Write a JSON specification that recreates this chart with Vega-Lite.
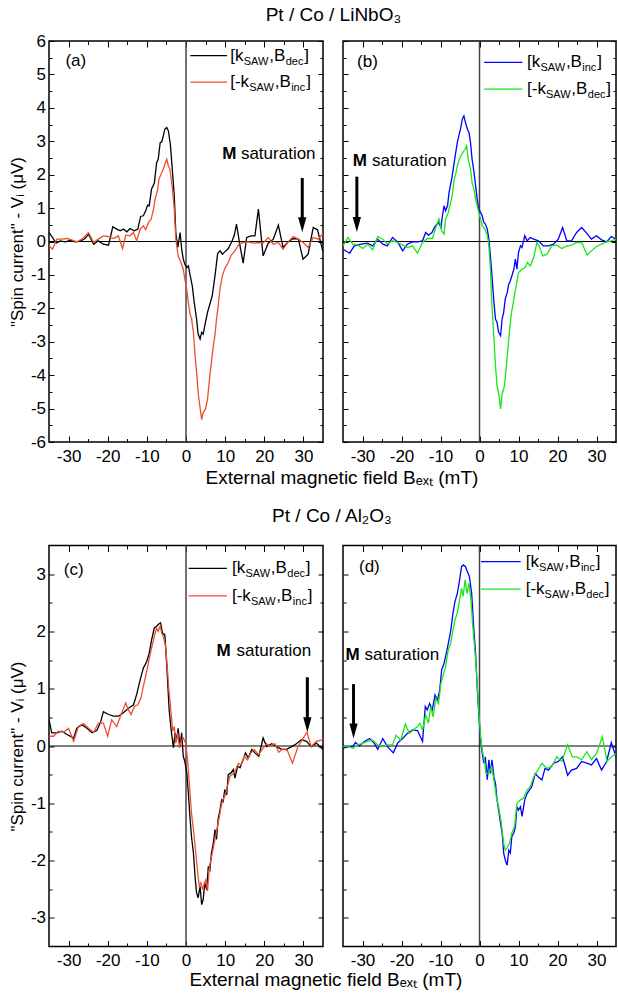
{
"$schema": "https://vega.github.io/schema/vega-lite/v6.json",
"padding": {"left": 7, "top": 6, "right": 0, "bottom": 0},
"datasets": {
"aL": [
{"s":"k_dec","B":-35,"V":0.27},{"s":"k_dec","B":-34.1,"V":0.12},{"s":"k_dec","B":-33.2,"V":-0.05},{"s":"k_dec","B":-32.1,"V":0.02},{"s":"k_dec","B":-30.9,"V":-0.01},{"s":"k_dec","B":-29.6,"V":0.03},{"s":"k_dec","B":-28.3,"V":-0.01},{"s":"k_dec","B":-27.0,"V":0.01},{"s":"k_dec","B":-25.8,"V":0.09},{"s":"k_dec","B":-24.9,"V":0.22},{"s":"k_dec","B":-23.6,"V":-0.08},{"s":"k_dec","B":-22.4,"V":0.02},{"s":"k_dec","B":-21.1,"V":-0.08},{"s":"k_dec","B":-19.8,"V":-0.11},{"s":"k_dec","B":-18.7,"V":0.44},{"s":"k_dec","B":-17.7,"V":0.37},{"s":"k_dec","B":-16.8,"V":0.32},{"s":"k_dec","B":-16.0,"V":0.37},{"s":"k_dec","B":-15.1,"V":0.29},{"s":"k_dec","B":-14.3,"V":0.39},{"s":"k_dec","B":-13.2,"V":0.32},{"s":"k_dec","B":-12.3,"V":0.37},{"s":"k_dec","B":-11.6,"V":0.75},{"s":"k_dec","B":-10.9,"V":0.77},{"s":"k_dec","B":-10.3,"V":0.92},{"s":"k_dec","B":-9.8,"V":1.09},{"s":"k_dec","B":-9.4,"V":1.07},{"s":"k_dec","B":-8.8,"V":1.57},{"s":"k_dec","B":-8.1,"V":1.74},{"s":"k_dec","B":-7.5,"V":2.36},{"s":"k_dec","B":-7.1,"V":2.46},{"s":"k_dec","B":-6.6,"V":2.96},{"s":"k_dec","B":-6.2,"V":2.98},{"s":"k_dec","B":-5.8,"V":3.16},{"s":"k_dec","B":-5.4,"V":3.36},{"s":"k_dec","B":-4.9,"V":3.41},{"s":"k_dec","B":-4.5,"V":3.31},{"s":"k_dec","B":-4.0,"V":2.91},{"s":"k_dec","B":-3.5,"V":2.16},{"s":"k_dec","B":-3.0,"V":1.37},{"s":"k_dec","B":-2.6,"V":0.27},{"s":"k_dec","B":-2.1,"V":-0.18},{"s":"k_dec","B":-1.5,"V":0.27},{"s":"k_dec","B":-1.1,"V":-0.23},{"s":"k_dec","B":-0.7,"V":-0.53},{"s":"k_dec","B":-0.3,"V":-0.68},{"s":"k_dec","B":0.2,"V":-0.78},{"s":"k_dec","B":0.6,"V":-0.73},{"s":"k_dec","B":1.0,"V":-0.98},{"s":"k_dec","B":1.6,"V":-1.33},{"s":"k_dec","B":2.1,"V":-1.82},{"s":"k_dec","B":2.7,"V":-2.32},{"s":"k_dec","B":3.1,"V":-2.77},{"s":"k_dec","B":3.6,"V":-2.92},{"s":"k_dec","B":4.0,"V":-2.72},{"s":"k_dec","B":4.4,"V":-2.77},{"s":"k_dec","B":4.8,"V":-2.52},{"s":"k_dec","B":5.5,"V":-2.12},{"s":"k_dec","B":6.1,"V":-1.87},{"s":"k_dec","B":6.7,"V":-1.63},{"s":"k_dec","B":7.4,"V":-1.03},{"s":"k_dec","B":8.1,"V":-0.35},{"s":"k_dec","B":8.7,"V":-0.28},{"s":"k_dec","B":9.3,"V":-0.38},{"s":"k_dec","B":9.9,"V":-0.31},{"s":"k_dec","B":10.8,"V":-0.21},{"s":"k_dec","B":11.6,"V":-0.03},{"s":"k_dec","B":12.3,"V":0.17},{"s":"k_dec","B":12.9,"V":0.52},{"s":"k_dec","B":13.8,"V":-0.13},{"s":"k_dec","B":14.6,"V":-0.65},{"s":"k_dec","B":15.5,"V":0.12},{"s":"k_dec","B":16.6,"V":0.17},{"s":"k_dec","B":17.6,"V":0.17},{"s":"k_dec","B":18.5,"V":0.97},{"s":"k_dec","B":19.7,"V":-0.43},{"s":"k_dec","B":21.0,"V":-0.05},{"s":"k_dec","B":22.3,"V":0.07},{"s":"k_dec","B":23.6,"V":0.49},{"s":"k_dec","B":24.8,"V":-0.18},{"s":"k_dec","B":26.1,"V":-0.01},{"s":"k_dec","B":27.4,"V":0.09},{"s":"k_dec","B":28.7,"V":0.07},{"s":"k_dec","B":29.9,"V":-0.53},{"s":"k_dec","B":31.2,"V":-0.38},{"s":"k_dec","B":32.5,"V":0.42},{"s":"k_dec","B":33.6,"V":0.35},{"s":"k_dec","B":35.0,"V":-0.31},
{"s":"mk_inc","B":-35,"V":-0.13},{"s":"mk_inc","B":-34.1,"V":-0.23},{"s":"mk_inc","B":-33,"V":0.07},{"s":"mk_inc","B":-31.7,"V":0.07},{"s":"mk_inc","B":-30.4,"V":0.09},{"s":"mk_inc","B":-29.2,"V":0.05},{"s":"mk_inc","B":-27.9,"V":-0.01},{"s":"mk_inc","B":-26.6,"V":0.07},{"s":"mk_inc","B":-24.9,"V":0.27},{"s":"mk_inc","B":-23.6,"V":-0.03},{"s":"mk_inc","B":-22.4,"V":0.07},{"s":"mk_inc","B":-21.1,"V":0.17},{"s":"mk_inc","B":-19.8,"V":0.15},{"s":"mk_inc","B":-18.5,"V":0.09},{"s":"mk_inc","B":-17.3,"V":0.17},{"s":"mk_inc","B":-16.2,"V":-0.21},{"s":"mk_inc","B":-15.4,"V":0.19},{"s":"mk_inc","B":-14.3,"V":0.17},{"s":"mk_inc","B":-13.4,"V":0.27},{"s":"mk_inc","B":-12.6,"V":0.02},{"s":"mk_inc","B":-11.7,"V":0.37},{"s":"mk_inc","B":-10.9,"V":0.47},{"s":"mk_inc","B":-10.3,"V":0.35},{"s":"mk_inc","B":-9.6,"V":0.57},{"s":"mk_inc","B":-8.9,"V":0.67},{"s":"mk_inc","B":-8.3,"V":0.97},{"s":"mk_inc","B":-7.9,"V":1.27},{"s":"mk_inc","B":-7.3,"V":1.52},{"s":"mk_inc","B":-6.9,"V":1.86},{"s":"mk_inc","B":-6.4,"V":2.01},{"s":"mk_inc","B":-5.8,"V":2.16},{"s":"mk_inc","B":-5.4,"V":2.31},{"s":"mk_inc","B":-4.9,"V":2.46},{"s":"mk_inc","B":-4.5,"V":2.26},{"s":"mk_inc","B":-4.1,"V":2.16},{"s":"mk_inc","B":-3.5,"V":1.62},{"s":"mk_inc","B":-3.0,"V":0.97},{"s":"mk_inc","B":-2.6,"V":0.07},{"s":"mk_inc","B":-2.0,"V":-0.43},{"s":"mk_inc","B":-1.3,"V":-0.63},{"s":"mk_inc","B":-0.7,"V":-0.83},{"s":"mk_inc","B":-0.3,"V":-1.13},{"s":"mk_inc","B":0.2,"V":-1.45},{"s":"mk_inc","B":0.6,"V":-1.82},{"s":"mk_inc","B":1.0,"V":-2.15},{"s":"mk_inc","B":1.4,"V":-2.3},{"s":"mk_inc","B":1.9,"V":-2.72},{"s":"mk_inc","B":2.3,"V":-3.4},{"s":"mk_inc","B":2.7,"V":-3.9},{"s":"mk_inc","B":3.1,"V":-4.52},{"s":"mk_inc","B":3.6,"V":-4.98},{"s":"mk_inc","B":4.0,"V":-5.33},{"s":"mk_inc","B":4.4,"V":-5.11},{"s":"mk_inc","B":5.0,"V":-5.01},{"s":"mk_inc","B":5.5,"V":-4.72},{"s":"mk_inc","B":6.1,"V":-4.0},{"s":"mk_inc","B":6.5,"V":-3.6},{"s":"mk_inc","B":7.0,"V":-3.1},{"s":"mk_inc","B":7.4,"V":-2.8},{"s":"mk_inc","B":7.8,"V":-2.32},{"s":"mk_inc","B":8.2,"V":-1.95},{"s":"mk_inc","B":8.7,"V":-1.4},{"s":"mk_inc","B":9.3,"V":-1.03},{"s":"mk_inc","B":9.9,"V":-0.81},{"s":"mk_inc","B":10.8,"V":-0.63},{"s":"mk_inc","B":11.6,"V":-0.4},{"s":"mk_inc","B":12.5,"V":-0.28},{"s":"mk_inc","B":13.5,"V":-0.08},{"s":"mk_inc","B":14.6,"V":-0.03},{"s":"mk_inc","B":15.9,"V":-0.01},{"s":"mk_inc","B":17.2,"V":-0.05},{"s":"mk_inc","B":18.5,"V":-0.03},{"s":"mk_inc","B":19.7,"V":-0.05},{"s":"mk_inc","B":21.0,"V":0.12},{"s":"mk_inc","B":22.3,"V":-0.08},{"s":"mk_inc","B":23.6,"V":-0.03},{"s":"mk_inc","B":24.8,"V":-0.23},{"s":"mk_inc","B":26.1,"V":-0.01},{"s":"mk_inc","B":27.4,"V":0.15},{"s":"mk_inc","B":28.7,"V":0.07},{"s":"mk_inc","B":29.9,"V":-0.03},{"s":"mk_inc","B":31.2,"V":-0.18},{"s":"mk_inc","B":32.5,"V":0.12},{"s":"mk_inc","B":33.8,"V":0.07},{"s":"mk_inc","B":35,"V":0.25}
],
"bL": [
{"s":"k_inc","B":-35,"V":-0.23},{"s":"k_inc","B":-33.3,"V":-0.35},{"s":"k_inc","B":-32.1,"V":-0.13},{"s":"k_inc","B":-30.4,"V":-0.08},{"s":"k_inc","B":-28.7,"V":-0.05},{"s":"k_inc","B":-27.4,"V":-0.13},{"s":"k_inc","B":-26.1,"V":0.07},{"s":"k_inc","B":-24.8,"V":-0.08},{"s":"k_inc","B":-23.6,"V":-0.13},{"s":"k_inc","B":-22.3,"V":0.12},{"s":"k_inc","B":-21.0,"V":-0.01},{"s":"k_inc","B":-19.7,"V":-0.28},{"s":"k_inc","B":-18.5,"V":-0.08},{"s":"k_inc","B":-17.2,"V":-0.01},{"s":"k_inc","B":-15.9,"V":-0.01},{"s":"k_inc","B":-14.6,"V":0.02},{"s":"k_inc","B":-13.8,"V":0.27},{"s":"k_inc","B":-13.1,"V":0.19},{"s":"k_inc","B":-12.2,"V":0.27},{"s":"k_inc","B":-11.4,"V":0.45},{"s":"k_inc","B":-10.5,"V":0.57},{"s":"k_inc","B":-9.9,"V":0.42},{"s":"k_inc","B":-9.5,"V":0.77},{"s":"k_inc","B":-9.1,"V":1.07},{"s":"k_inc","B":-8.7,"V":0.92},{"s":"k_inc","B":-8.2,"V":1.07},{"s":"k_inc","B":-7.8,"V":1.47},{"s":"k_inc","B":-7.4,"V":1.71},{"s":"k_inc","B":-7.0,"V":1.96},{"s":"k_inc","B":-6.5,"V":2.36},{"s":"k_inc","B":-6.1,"V":2.66},{"s":"k_inc","B":-5.7,"V":2.96},{"s":"k_inc","B":-5.3,"V":3.16},{"s":"k_inc","B":-4.8,"V":3.41},{"s":"k_inc","B":-4.4,"V":3.66},{"s":"k_inc","B":-4.0,"V":3.76},{"s":"k_inc","B":-3.6,"V":3.56},{"s":"k_inc","B":-3.1,"V":3.36},{"s":"k_inc","B":-2.7,"V":3.26},{"s":"k_inc","B":-2.3,"V":2.96},{"s":"k_inc","B":-1.9,"V":2.46},{"s":"k_inc","B":-1.4,"V":2.06},{"s":"k_inc","B":-1.0,"V":1.67},{"s":"k_inc","B":-0.6,"V":1.27},{"s":"k_inc","B":-0.2,"V":0.97},{"s":"k_inc","B":0.3,"V":0.87},{"s":"k_inc","B":0.7,"V":0.77},{"s":"k_inc","B":1.1,"V":0.57},{"s":"k_inc","B":1.5,"V":0.52},{"s":"k_inc","B":2.0,"V":0.37},{"s":"k_inc","B":2.4,"V":0.07},{"s":"k_inc","B":2.8,"V":-0.43},{"s":"k_inc","B":3.2,"V":-1.03},{"s":"k_inc","B":3.7,"V":-1.82},{"s":"k_inc","B":4.1,"V":-2.32},{"s":"k_inc","B":4.5,"V":-2.42},{"s":"k_inc","B":4.9,"V":-2.72},{"s":"k_inc","B":5.4,"V":-2.82},{"s":"k_inc","B":5.8,"V":-2.32},{"s":"k_inc","B":6.2,"V":-2.12},{"s":"k_inc","B":6.6,"V":-1.72},{"s":"k_inc","B":7.1,"V":-1.53},{"s":"k_inc","B":7.5,"V":-1.28},{"s":"k_inc","B":7.9,"V":-1.18},{"s":"k_inc","B":8.3,"V":-1.03},{"s":"k_inc","B":8.8,"V":-0.83},{"s":"k_inc","B":9.2,"V":-0.53},{"s":"k_inc","B":9.6,"V":-0.83},{"s":"k_inc","B":10.0,"V":-0.33},{"s":"k_inc","B":10.5,"V":-0.13},{"s":"k_inc","B":10.9,"V":-0.18},{"s":"k_inc","B":11.6,"V":0.17},{"s":"k_inc","B":12.2,"V":0.02},{"s":"k_inc","B":13.0,"V":0.12},{"s":"k_inc","B":13.9,"V":0.07},{"s":"k_inc","B":15.1,"V":0.02},{"s":"k_inc","B":16.4,"V":-0.13},{"s":"k_inc","B":17.7,"V":-0.13},{"s":"k_inc","B":19.0,"V":-0.08},{"s":"k_inc","B":20.2,"V":0.07},{"s":"k_inc","B":21.3,"V":0.42},{"s":"k_inc","B":22.4,"V":0.02},{"s":"k_inc","B":23.6,"V":0.02},{"s":"k_inc","B":24.9,"V":0.27},{"s":"k_inc","B":26.2,"V":0.42},{"s":"k_inc","B":27.5,"V":0.25},{"s":"k_inc","B":28.7,"V":0.07},{"s":"k_inc","B":30.0,"V":0.17},{"s":"k_inc","B":31.3,"V":0.05},{"s":"k_inc","B":32.6,"V":-0.01},{"s":"k_inc","B":33.8,"V":0.15},{"s":"k_inc","B":35,"V":0.07},
{"s":"mk_dec","B":-35,"V":-0.13},{"s":"mk_dec","B":-33.7,"V":0.12},{"s":"mk_dec","B":-32.5,"V":-0.08},{"s":"mk_dec","B":-31.2,"V":-0.11},{"s":"mk_dec","B":-29.9,"V":-0.21},{"s":"mk_dec","B":-28.7,"V":-0.08},{"s":"mk_dec","B":-27.4,"V":-0.25},{"s":"mk_dec","B":-26.1,"V":0.15},{"s":"mk_dec","B":-24.8,"V":0.07},{"s":"mk_dec","B":-23.6,"V":-0.08},{"s":"mk_dec","B":-22.3,"V":0.02},{"s":"mk_dec","B":-21.0,"V":-0.03},{"s":"mk_dec","B":-19.7,"V":-0.11},{"s":"mk_dec","B":-18.5,"V":-0.18},{"s":"mk_dec","B":-17.2,"V":-0.13},{"s":"mk_dec","B":-15.9,"V":-0.35},{"s":"mk_dec","B":-14.6,"V":-0.03},{"s":"mk_dec","B":-13.4,"V":0.09},{"s":"mk_dec","B":-12.1,"V":0.09},{"s":"mk_dec","B":-11.2,"V":0.42},{"s":"mk_dec","B":-10.4,"V":0.67},{"s":"mk_dec","B":-9.7,"V":0.32},{"s":"mk_dec","B":-9.1,"V":0.22},{"s":"mk_dec","B":-8.7,"V":0.67},{"s":"mk_dec","B":-8.0,"V":0.87},{"s":"mk_dec","B":-7.4,"V":1.17},{"s":"mk_dec","B":-7.0,"V":1.37},{"s":"mk_dec","B":-6.5,"V":1.86},{"s":"mk_dec","B":-6.1,"V":2.01},{"s":"mk_dec","B":-5.7,"V":2.26},{"s":"mk_dec","B":-5.3,"V":2.41},{"s":"mk_dec","B":-4.8,"V":2.56},{"s":"mk_dec","B":-4.3,"V":2.66},{"s":"mk_dec","B":-3.7,"V":2.76},{"s":"mk_dec","B":-3.3,"V":2.86},{"s":"mk_dec","B":-2.9,"V":2.46},{"s":"mk_dec","B":-2.3,"V":2.16},{"s":"mk_dec","B":-1.9,"V":1.76},{"s":"mk_dec","B":-1.4,"V":1.57},{"s":"mk_dec","B":-1.0,"V":1.27},{"s":"mk_dec","B":-0.6,"V":1.07},{"s":"mk_dec","B":-0.2,"V":0.87},{"s":"mk_dec","B":0.3,"V":0.67},{"s":"mk_dec","B":0.7,"V":0.47},{"s":"mk_dec","B":1.4,"V":0.37},{"s":"mk_dec","B":2.0,"V":0.17},{"s":"mk_dec","B":2.4,"V":-0.13},{"s":"mk_dec","B":2.8,"V":-0.83},{"s":"mk_dec","B":3.2,"V":-1.92},{"s":"mk_dec","B":3.7,"V":-2.92},{"s":"mk_dec","B":4.1,"V":-3.72},{"s":"mk_dec","B":4.5,"V":-4.32},{"s":"mk_dec","B":4.9,"V":-4.52},{"s":"mk_dec","B":5.4,"V":-5.01},{"s":"mk_dec","B":5.8,"V":-4.57},{"s":"mk_dec","B":6.4,"V":-4.32},{"s":"mk_dec","B":6.9,"V":-3.72},{"s":"mk_dec","B":7.5,"V":-2.92},{"s":"mk_dec","B":8.1,"V":-2.22},{"s":"mk_dec","B":8.8,"V":-1.72},{"s":"mk_dec","B":9.4,"V":-1.33},{"s":"mk_dec","B":10.0,"V":-0.93},{"s":"mk_dec","B":10.9,"V":-0.83},{"s":"mk_dec","B":11.7,"V":-0.78},{"s":"mk_dec","B":12.3,"V":-0.63},{"s":"mk_dec","B":13.0,"V":-0.73},{"s":"mk_dec","B":13.9,"V":-0.48},{"s":"mk_dec","B":14.7,"V":-0.03},{"s":"mk_dec","B":15.3,"V":-0.13},{"s":"mk_dec","B":16.2,"V":-0.43},{"s":"mk_dec","B":17.3,"V":-0.38},{"s":"mk_dec","B":18.5,"V":-0.13},{"s":"mk_dec","B":19.8,"V":-0.11},{"s":"mk_dec","B":21.1,"V":-0.21},{"s":"mk_dec","B":22.4,"V":-0.13},{"s":"mk_dec","B":23.6,"V":-0.11},{"s":"mk_dec","B":24.9,"V":-0.03},{"s":"mk_dec","B":26.2,"V":-0.03},{"s":"mk_dec","B":27.6,"V":-0.41},{"s":"mk_dec","B":28.7,"V":-0.28},{"s":"mk_dec","B":30.0,"V":-0.15},{"s":"mk_dec","B":31.3,"V":-0.08},{"s":"mk_dec","B":32.6,"V":-0.01},{"s":"mk_dec","B":33.8,"V":0.02},{"s":"mk_dec","B":35,"V":0.07}
],
"cL": [
{"s":"k_dec","B":-35,"V":0.46},{"s":"k_dec","B":-34.3,"V":0.23},{"s":"k_dec","B":-33.0,"V":0.23},{"s":"k_dec","B":-31.7,"V":0.26},{"s":"k_dec","B":-30.4,"V":0.20},{"s":"k_dec","B":-28.7,"V":0.14},{"s":"k_dec","B":-27.9,"V":0.31},{"s":"k_dec","B":-26.6,"V":0.37},{"s":"k_dec","B":-25.3,"V":0.31},{"s":"k_dec","B":-24.0,"V":0.23},{"s":"k_dec","B":-22.8,"V":0.27},{"s":"k_dec","B":-21.9,"V":0.40},{"s":"k_dec","B":-21.1,"V":0.60},{"s":"k_dec","B":-19.8,"V":0.55},{"s":"k_dec","B":-18.5,"V":0.52},{"s":"k_dec","B":-17.3,"V":0.52},{"s":"k_dec","B":-16.0,"V":0.58},{"s":"k_dec","B":-14.7,"V":0.66},{"s":"k_dec","B":-13.4,"V":0.72},{"s":"k_dec","B":-12.6,"V":0.90},{"s":"k_dec","B":-11.7,"V":1.16},{"s":"k_dec","B":-10.9,"V":1.36},{"s":"k_dec","B":-10.0,"V":1.48},{"s":"k_dec","B":-9.4,"V":1.62},{"s":"k_dec","B":-8.8,"V":1.85},{"s":"k_dec","B":-8.1,"V":2.06},{"s":"k_dec","B":-7.5,"V":2.09},{"s":"k_dec","B":-7.1,"V":2.12},{"s":"k_dec","B":-6.5,"V":2.15},{"s":"k_dec","B":-6.0,"V":1.97},{"s":"k_dec","B":-5.4,"V":1.94},{"s":"k_dec","B":-4.9,"V":1.39},{"s":"k_dec","B":-4.3,"V":0.63},{"s":"k_dec","B":-3.8,"V":0.28},{"s":"k_dec","B":-3.2,"V":-0.03},{"s":"k_dec","B":-2.8,"V":0.23},{"s":"k_dec","B":-2.4,"V":0.11},{"s":"k_dec","B":-2.0,"V":0.31},{"s":"k_dec","B":-1.5,"V":-0.01},{"s":"k_dec","B":-1.1,"V":0.23},{"s":"k_dec","B":-0.7,"V":-0.18},{"s":"k_dec","B":-0.3,"V":-0.27},{"s":"k_dec","B":0.2,"V":-0.47},{"s":"k_dec","B":0.6,"V":-0.82},{"s":"k_dec","B":1.0,"V":-1.23},{"s":"k_dec","B":1.4,"V":-1.58},{"s":"k_dec","B":1.9,"V":-1.87},{"s":"k_dec","B":2.3,"V":-2.27},{"s":"k_dec","B":2.7,"V":-2.56},{"s":"k_dec","B":3.1,"V":-2.65},{"s":"k_dec","B":3.6,"V":-2.45},{"s":"k_dec","B":4.0,"V":-2.77},{"s":"k_dec","B":4.4,"V":-2.68},{"s":"k_dec","B":4.8,"V":-2.39},{"s":"k_dec","B":5.3,"V":-2.51},{"s":"k_dec","B":5.7,"V":-2.10},{"s":"k_dec","B":6.1,"V":-2.16},{"s":"k_dec","B":6.5,"V":-1.87},{"s":"k_dec","B":7.0,"V":-1.69},{"s":"k_dec","B":7.4,"V":-1.46},{"s":"k_dec","B":7.8,"V":-1.63},{"s":"k_dec","B":8.2,"V":-1.28},{"s":"k_dec","B":8.7,"V":-1.11},{"s":"k_dec","B":9.1,"V":-0.94},{"s":"k_dec","B":9.5,"V":-0.97},{"s":"k_dec","B":9.9,"V":-0.76},{"s":"k_dec","B":10.4,"V":-0.85},{"s":"k_dec","B":10.8,"V":-0.50},{"s":"k_dec","B":11.5,"V":-0.47},{"s":"k_dec","B":12.1,"V":-0.41},{"s":"k_dec","B":12.5,"V":-0.56},{"s":"k_dec","B":13.2,"V":-0.35},{"s":"k_dec","B":13.8,"V":-0.38},{"s":"k_dec","B":14.6,"V":-0.24},{"s":"k_dec","B":15.2,"V":-0.12},{"s":"k_dec","B":15.9,"V":-0.21},{"s":"k_dec","B":16.8,"V":-0.06},{"s":"k_dec","B":17.6,"V":-0.12},{"s":"k_dec","B":18.6,"V":-0.18},{"s":"k_dec","B":19.7,"V":0.14},{"s":"k_dec","B":20.6,"V":-0.01},{"s":"k_dec","B":21.9,"V":0.04},{"s":"k_dec","B":23.1,"V":-0.01},{"s":"k_dec","B":24.4,"V":-0.06},{"s":"k_dec","B":25.7,"V":-0.06},{"s":"k_dec","B":27.0,"V":-0.01},{"s":"k_dec","B":28.2,"V":0.04},{"s":"k_dec","B":29.5,"V":0.11},{"s":"k_dec","B":30.8,"V":0.08},{"s":"k_dec","B":32.0,"V":-0.01},{"s":"k_dec","B":33.3,"V":0.05},{"s":"k_dec","B":35,"V":-0.06},
{"s":"mk_inc","B":-35,"V":0.17},{"s":"mk_inc","B":-33.8,"V":0.17},{"s":"mk_inc","B":-32.6,"V":0.26},{"s":"mk_inc","B":-31.3,"V":0.24},{"s":"mk_inc","B":-30.0,"V":0.31},{"s":"mk_inc","B":-28.7,"V":0.08},{"s":"mk_inc","B":-27.5,"V":0.34},{"s":"mk_inc","B":-26.2,"V":0.39},{"s":"mk_inc","B":-24.9,"V":0.31},{"s":"mk_inc","B":-23.6,"V":0.24},{"s":"mk_inc","B":-22.4,"V":0.40},{"s":"mk_inc","B":-21.1,"V":0.40},{"s":"mk_inc","B":-20.0,"V":0.17},{"s":"mk_inc","B":-19.0,"V":0.46},{"s":"mk_inc","B":-17.7,"V":0.34},{"s":"mk_inc","B":-16.6,"V":0.55},{"s":"mk_inc","B":-15.4,"V":0.75},{"s":"mk_inc","B":-14.7,"V":0.63},{"s":"mk_inc","B":-14.0,"V":0.55},{"s":"mk_inc","B":-13.2,"V":0.69},{"s":"mk_inc","B":-12.3,"V":0.72},{"s":"mk_inc","B":-11.5,"V":0.84},{"s":"mk_inc","B":-10.9,"V":1.04},{"s":"mk_inc","B":-10.3,"V":1.22},{"s":"mk_inc","B":-9.6,"V":1.45},{"s":"mk_inc","B":-8.9,"V":1.68},{"s":"mk_inc","B":-8.3,"V":1.85},{"s":"mk_inc","B":-7.9,"V":1.97},{"s":"mk_inc","B":-7.5,"V":2.06},{"s":"mk_inc","B":-7.1,"V":2.00},{"s":"mk_inc","B":-6.6,"V":2.09},{"s":"mk_inc","B":-6.2,"V":1.97},{"s":"mk_inc","B":-5.8,"V":1.91},{"s":"mk_inc","B":-5.2,"V":1.74},{"s":"mk_inc","B":-4.8,"V":1.39},{"s":"mk_inc","B":-4.3,"V":0.92},{"s":"mk_inc","B":-3.8,"V":0.58},{"s":"mk_inc","B":-3.4,"V":0.26},{"s":"mk_inc","B":-3.0,"V":0.34},{"s":"mk_inc","B":-2.6,"V":0.05},{"s":"mk_inc","B":-2.1,"V":0.23},{"s":"mk_inc","B":-1.7,"V":-0.03},{"s":"mk_inc","B":-1.3,"V":0.08},{"s":"mk_inc","B":-0.7,"V":0.14},{"s":"mk_inc","B":-0.1,"V":0.05},{"s":"mk_inc","B":0.4,"V":-0.24},{"s":"mk_inc","B":0.9,"V":-0.70},{"s":"mk_inc","B":1.4,"V":-1.17},{"s":"mk_inc","B":2.0,"V":-1.52},{"s":"mk_inc","B":2.5,"V":-1.87},{"s":"mk_inc","B":3.0,"V":-2.22},{"s":"mk_inc","B":3.4,"V":-2.45},{"s":"mk_inc","B":3.8,"V":-2.39},{"s":"mk_inc","B":4.3,"V":-2.51},{"s":"mk_inc","B":4.7,"V":-2.39},{"s":"mk_inc","B":5.1,"V":-2.33},{"s":"mk_inc","B":5.5,"V":-2.53},{"s":"mk_inc","B":6.0,"V":-2.10},{"s":"mk_inc","B":6.4,"V":-1.98},{"s":"mk_inc","B":6.9,"V":-1.81},{"s":"mk_inc","B":7.4,"V":-1.63},{"s":"mk_inc","B":7.9,"V":-1.46},{"s":"mk_inc","B":8.4,"V":-1.28},{"s":"mk_inc","B":8.9,"V":-1.08},{"s":"mk_inc","B":9.4,"V":-0.94},{"s":"mk_inc","B":9.9,"V":-0.88},{"s":"mk_inc","B":10.6,"V":-0.70},{"s":"mk_inc","B":11.2,"V":-0.53},{"s":"mk_inc","B":11.8,"V":-0.50},{"s":"mk_inc","B":12.5,"V":-0.44},{"s":"mk_inc","B":13.4,"V":-0.30},{"s":"mk_inc","B":14.0,"V":-0.33},{"s":"mk_inc","B":14.9,"V":-0.18},{"s":"mk_inc","B":15.7,"V":-0.24},{"s":"mk_inc","B":16.6,"V":-0.12},{"s":"mk_inc","B":17.4,"V":-0.06},{"s":"mk_inc","B":18.5,"V":-0.15},{"s":"mk_inc","B":19.5,"V":-0.06},{"s":"mk_inc","B":20.6,"V":0.04},{"s":"mk_inc","B":21.4,"V":-0.01},{"s":"mk_inc","B":22.7,"V":0.04},{"s":"mk_inc","B":23.7,"V":-0.11},{"s":"mk_inc","B":24.8,"V":-0.05},{"s":"mk_inc","B":25.9,"V":-0.08},{"s":"mk_inc","B":27.2,"V":-0.30},{"s":"mk_inc","B":28.5,"V":-0.03},{"s":"mk_inc","B":29.7,"V":0.11},{"s":"mk_inc","B":30.9,"V":0.24},{"s":"mk_inc","B":32.0,"V":-0.01},{"s":"mk_inc","B":33.3,"V":0.08},{"s":"mk_inc","B":35,"V":0.11}
],
"dL": [
{"s":"k_inc","B":-35,"V":-0.04},{"s":"k_inc","B":-33.8,"V":-0.01},{"s":"k_inc","B":-32.5,"V":-0.01},{"s":"k_inc","B":-31.8,"V":0.06},{"s":"k_inc","B":-30.8,"V":0.00},{"s":"k_inc","B":-29.5,"V":0.08},{"s":"k_inc","B":-28.2,"V":0.13},{"s":"k_inc","B":-27.0,"V":0.05},{"s":"k_inc","B":-26.1,"V":-0.06},{"s":"k_inc","B":-24.8,"V":0.13},{"s":"k_inc","B":-23.6,"V":-0.01},{"s":"k_inc","B":-22.1,"V":-0.12},{"s":"k_inc","B":-21.0,"V":0.05},{"s":"k_inc","B":-19.7,"V":0.13},{"s":"k_inc","B":-18.5,"V":0.22},{"s":"k_inc","B":-17.2,"V":0.28},{"s":"k_inc","B":-15.9,"V":0.27},{"s":"k_inc","B":-14.6,"V":0.08},{"s":"k_inc","B":-13.9,"V":0.69},{"s":"k_inc","B":-13.4,"V":0.63},{"s":"k_inc","B":-12.8,"V":0.74},{"s":"k_inc","B":-12.1,"V":0.63},{"s":"k_inc","B":-11.4,"V":0.89},{"s":"k_inc","B":-10.8,"V":0.80},{"s":"k_inc","B":-10.2,"V":0.98},{"s":"k_inc","B":-9.7,"V":1.33},{"s":"k_inc","B":-9.1,"V":1.44},{"s":"k_inc","B":-8.5,"V":1.62},{"s":"k_inc","B":-8.0,"V":1.79},{"s":"k_inc","B":-7.4,"V":2.00},{"s":"k_inc","B":-6.8,"V":2.32},{"s":"k_inc","B":-6.3,"V":2.52},{"s":"k_inc","B":-5.7,"V":2.66},{"s":"k_inc","B":-5.1,"V":2.90},{"s":"k_inc","B":-4.6,"V":3.13},{"s":"k_inc","B":-4.1,"V":3.16},{"s":"k_inc","B":-3.6,"V":3.13},{"s":"k_inc","B":-3.1,"V":3.04},{"s":"k_inc","B":-2.6,"V":2.96},{"s":"k_inc","B":-2.0,"V":2.66},{"s":"k_inc","B":-1.5,"V":2.08},{"s":"k_inc","B":-1.0,"V":1.62},{"s":"k_inc","B":-0.6,"V":1.04},{"s":"k_inc","B":-0.2,"V":0.57},{"s":"k_inc","B":0.3,"V":0.10},{"s":"k_inc","B":0.7,"V":-0.13},{"s":"k_inc","B":1.1,"V":-0.30},{"s":"k_inc","B":1.5,"V":-0.19},{"s":"k_inc","B":2.0,"V":-0.59},{"s":"k_inc","B":2.4,"V":-0.24},{"s":"k_inc","B":2.8,"V":-0.48},{"s":"k_inc","B":3.2,"V":-0.24},{"s":"k_inc","B":3.7,"V":-0.54},{"s":"k_inc","B":4.1,"V":-0.65},{"s":"k_inc","B":4.5,"V":-0.94},{"s":"k_inc","B":4.9,"V":-1.12},{"s":"k_inc","B":5.4,"V":-1.35},{"s":"k_inc","B":5.8,"V":-1.52},{"s":"k_inc","B":6.2,"V":-1.87},{"s":"k_inc","B":6.6,"V":-1.99},{"s":"k_inc","B":7.1,"V":-2.08},{"s":"k_inc","B":7.5,"V":-1.82},{"s":"k_inc","B":7.9,"V":-1.87},{"s":"k_inc","B":8.3,"V":-1.58},{"s":"k_inc","B":8.8,"V":-1.52},{"s":"k_inc","B":9.2,"V":-1.41},{"s":"k_inc","B":9.6,"V":-1.06},{"s":"k_inc","B":10.0,"V":-1.12},{"s":"k_inc","B":10.5,"V":-1.06},{"s":"k_inc","B":10.9,"V":-1.23},{"s":"k_inc","B":11.6,"V":-0.94},{"s":"k_inc","B":12.2,"V":-0.83},{"s":"k_inc","B":12.8,"V":-0.77},{"s":"k_inc","B":13.4,"V":-0.71},{"s":"k_inc","B":14.3,"V":-0.48},{"s":"k_inc","B":15.1,"V":-0.54},{"s":"k_inc","B":16.0,"V":-0.59},{"s":"k_inc","B":16.8,"V":-0.39},{"s":"k_inc","B":17.7,"V":-0.42},{"s":"k_inc","B":19.0,"V":-0.30},{"s":"k_inc","B":20.2,"V":-0.27},{"s":"k_inc","B":21.3,"V":-0.19},{"s":"k_inc","B":22.6,"V":-0.51},{"s":"k_inc","B":23.6,"V":-0.42},{"s":"k_inc","B":24.9,"V":-0.39},{"s":"k_inc","B":26.2,"V":-0.27},{"s":"k_inc","B":27.5,"V":-0.30},{"s":"k_inc","B":28.7,"V":-0.33},{"s":"k_inc","B":30.0,"V":-0.22},{"s":"k_inc","B":31.3,"V":-0.42},{"s":"k_inc","B":32.6,"V":-0.27},{"s":"k_inc","B":33.8,"V":0.06},{"s":"k_inc","B":35,"V":-0.19},
{"s":"mk_dec","B":-35,"V":-0.01},{"s":"mk_dec","B":-33.8,"V":0.00},{"s":"mk_dec","B":-32.5,"V":-0.04},{"s":"mk_dec","B":-31.2,"V":0.02},{"s":"mk_dec","B":-29.9,"V":0.05},{"s":"mk_dec","B":-28.7,"V":0.08},{"s":"mk_dec","B":-27.4,"V":0.10},{"s":"mk_dec","B":-26.1,"V":0.02},{"s":"mk_dec","B":-24.8,"V":-0.01},{"s":"mk_dec","B":-23.6,"V":0.02},{"s":"mk_dec","B":-22.3,"V":0.02},{"s":"mk_dec","B":-21.4,"V":0.19},{"s":"mk_dec","B":-20.2,"V":0.10},{"s":"mk_dec","B":-19.0,"V":0.38},{"s":"mk_dec","B":-18.0,"V":0.22},{"s":"mk_dec","B":-17.0,"V":0.28},{"s":"mk_dec","B":-15.9,"V":0.34},{"s":"mk_dec","B":-15.3,"V":0.40},{"s":"mk_dec","B":-14.6,"V":0.28},{"s":"mk_dec","B":-13.8,"V":0.54},{"s":"mk_dec","B":-13.1,"V":0.40},{"s":"mk_dec","B":-12.5,"V":0.69},{"s":"mk_dec","B":-11.9,"V":0.51},{"s":"mk_dec","B":-11.2,"V":0.83},{"s":"mk_dec","B":-10.5,"V":0.74},{"s":"mk_dec","B":-9.9,"V":1.09},{"s":"mk_dec","B":-9.4,"V":1.21},{"s":"mk_dec","B":-8.7,"V":1.38},{"s":"mk_dec","B":-8.0,"V":1.68},{"s":"mk_dec","B":-7.4,"V":1.79},{"s":"mk_dec","B":-6.8,"V":2.02},{"s":"mk_dec","B":-6.3,"V":2.20},{"s":"mk_dec","B":-5.7,"V":2.32},{"s":"mk_dec","B":-5.1,"V":2.55},{"s":"mk_dec","B":-4.6,"V":2.75},{"s":"mk_dec","B":-4.2,"V":2.61},{"s":"mk_dec","B":-3.7,"V":2.90},{"s":"mk_dec","B":-3.2,"V":2.66},{"s":"mk_dec","B":-2.7,"V":2.84},{"s":"mk_dec","B":-2.2,"V":2.55},{"s":"mk_dec","B":-1.7,"V":2.08},{"s":"mk_dec","B":-1.2,"V":1.68},{"s":"mk_dec","B":-0.7,"V":1.21},{"s":"mk_dec","B":-0.2,"V":0.63},{"s":"mk_dec","B":0.3,"V":0.16},{"s":"mk_dec","B":0.7,"V":-0.07},{"s":"mk_dec","B":1.2,"V":-0.24},{"s":"mk_dec","B":1.7,"V":-0.48},{"s":"mk_dec","B":2.4,"V":-0.48},{"s":"mk_dec","B":3.1,"V":-0.36},{"s":"mk_dec","B":3.7,"V":-0.59},{"s":"mk_dec","B":4.3,"V":-0.88},{"s":"mk_dec","B":4.9,"V":-1.06},{"s":"mk_dec","B":5.6,"V":-1.35},{"s":"mk_dec","B":6.2,"V":-1.70},{"s":"mk_dec","B":6.6,"V":-1.82},{"s":"mk_dec","B":7.2,"V":-1.76},{"s":"mk_dec","B":7.7,"V":-1.70},{"s":"mk_dec","B":8.3,"V":-1.52},{"s":"mk_dec","B":9.0,"V":-1.41},{"s":"mk_dec","B":9.6,"V":-1.00},{"s":"mk_dec","B":10.5,"V":-0.94},{"s":"mk_dec","B":11.3,"V":-0.91},{"s":"mk_dec","B":12.2,"V":-0.77},{"s":"mk_dec","B":13.0,"V":-0.71},{"s":"mk_dec","B":13.9,"V":-0.54},{"s":"mk_dec","B":14.7,"V":-0.45},{"s":"mk_dec","B":16.0,"V":-0.30},{"s":"mk_dec","B":17.3,"V":-0.39},{"s":"mk_dec","B":18.5,"V":-0.36},{"s":"mk_dec","B":19.8,"V":-0.19},{"s":"mk_dec","B":21.1,"V":-0.27},{"s":"mk_dec","B":22.6,"V":0.02},{"s":"mk_dec","B":23.8,"V":-0.19},{"s":"mk_dec","B":24.9,"V":-0.19},{"s":"mk_dec","B":26.2,"V":-0.24},{"s":"mk_dec","B":27.5,"V":-0.10},{"s":"mk_dec","B":28.7,"V":-0.24},{"s":"mk_dec","B":30.0,"V":-0.13},{"s":"mk_dec","B":31.5,"V":0.16},{"s":"mk_dec","B":32.7,"V":-0.27},{"s":"mk_dec","B":33.8,"V":-0.19},{"s":"mk_dec","B":35,"V":-0.13}
]
},
"spacing": 18.5,
"vconcat": [
{
"title": {"text": "Pt / Co / LiNbO₃", "anchor": "middle", "dx": 21, "offset": 6},
"vconcat": [{
"title": {"text": "External magnetic field Bₑₓₜ (mT)", "orient": "bottom", "anchor": "middle", "dx": 29.5, "offset": 4},
"spacing": 16,
"hconcat": [
{
"width": 274, "height": 401,
"layer": [
{"data": {"values": [{"B": 0}]}, "mark": {"type": "rule", "color": "#444444", "strokeWidth": 1.5},
 "encoding": {"x": {"field": "B", "type": "quantitative", "scale": {"domain": [-35, 35], "nice": false, "zero": false},
  "axis": {"orient": "top", "values": [-30,-20,-10,0,10,20,30], "tickSize": -6, "labels": false, "title": null}}}},
{"data": {"values": [{"V": 0}]}, "mark": {"type": "rule", "color": "black", "strokeWidth": 1},
 "encoding": {"y": {"field": "V", "type": "quantitative", "scale": {"domain": [-6, 6], "nice": false, "zero": false},
  "axis": {"orient": "right", "values": [-6,-5,-4,-3,-2,-1,0,1,2,3,4,5,6], "tickSize": -5, "labels": false, "title": null}}}},
{"data": {"name": "aL"}, "mark": {"type": "line", "strokeWidth": 1.3, "clip": true},
 "encoding": {
  "x": {"field": "B", "type": "quantitative", "scale": {"domain": [-35, 35], "nice": false, "zero": false},
   "axis": {"orient": "bottom", "values": [-30,-20,-10,0,10,20,30], "tickSize": -6, "labelExpr": "'' + datum.value", "labelPadding": 12, "title": null}},
  "y": {"field": "V", "type": "quantitative", "scale": {"domain": [-6, 6], "nice": false, "zero": false},
   "axis": {"orient": "left", "values": [-6,-5,-4,-3,-2,-1,0,1,2,3,4,5,6], "tickSize": -5, "labelExpr": "'' + datum.value", "labelPadding": 8.5, "title": "\"Spin current\"  - Vᵢ (μV)", "titlePadding": 4}},
  "color": {"field": "s", "type": "nominal", "scale": {"domain": ["k_dec","mk_inc","k_inc","mk_dec"], "range": ["#000000","#ef4f31","#0000ff","#19e619"]}, "legend": null}}},
{"data": {"values": [{"s":"k_dec","B":1.1,"B2":10.5,"V":5.56},{"s":"mk_inc","B":1.1,"B2":10.5,"V":4.77}]}, "mark": {"type": "rule", "strokeWidth": 1.3},
 "encoding": {"x": {"field": "B", "type": "quantitative", "axis": {"orient": "bottom", "values": [-25,-15,-5,5,15,25], "tickSize": -3.5, "labels": false, "title": null}}, "x2": {"field": "B2"},
  "y": {"field": "V", "type": "quantitative", "axis": {"orient": "left", "values": [-5.5,-4.5,-3.5,-2.5,-1.5,-0.5,0.5,1.5,2.5,3.5,4.5,5.5], "tickSize": -3, "labels": false, "title": null}},
  "color": {"field": "s", "type": "nominal", "scale": {"domain": ["k_dec","mk_inc","k_inc","mk_dec"], "range": ["#000000","#ef4f31","#0000ff","#19e619"]}, "legend": null}}},
{"data": {"values": [{"B":29.7,"V":1.90,"V2":0.6}]}, "mark": {"type": "rule", "strokeWidth": 3, "color": "black"},
 "encoding": {"x": {"field": "B", "type": "quantitative", "axis": {"orient": "top", "values": [-25,-15,-5,5,15,25], "tickSize": -3.5, "labels": false, "title": null}},
  "y": {"field": "V", "type": "quantitative", "axis": {"orient": "right", "values": [-5.5,-4.5,-3.5,-2.5,-1.5,-0.5,0.5,1.5,2.5,3.5,4.5,5.5], "tickSize": -3, "labels": false, "title": null}}, "y2": {"field": "V2"}}},
{"data": {"values": [{"t":"(a)","B":-30.8,"V":5.41},{"t":"saturation","B":14.03,"V":2.62},{"t":"[k","B":11.3,"V":5.56},{"t":",B","B":21.25,"V":5.56},{"t":"]","B":30.18,"V":5.56},{"t":"[-k","B":11.3,"V":4.77},{"t":",B","B":22.65,"V":4.77},{"t":"]","B":30.69,"V":4.77}]},
 "mark": {"type": "text", "align": "left", "baseline": "middle", "fontSize": 17},
 "encoding": {"x": {"field": "B", "type": "quantitative", "axis": null}, "y": {"field": "V", "type": "quantitative", "axis": null}, "text": {"field": "t"}}},
{"data": {"values": [{"t":"SAW","B":14.74,"V":5.56},{"t":"dec","B":25.46,"V":5.56},{"t":"SAW","B":16.15,"V":4.77},{"t":"inc","B":26.86,"V":4.77}]},
 "mark": {"type": "text", "align": "left", "baseline": "middle", "fontSize": 11, "dy": 6},
 "encoding": {"x": {"field": "B", "type": "quantitative", "axis": null}, "y": {"field": "V", "type": "quantitative", "axis": null}, "text": {"field": "t"}}},
{"data": {"values": [{"t":"M","B":9.26,"V":2.62}]},
 "mark": {"type": "text", "align": "left", "baseline": "middle", "fontSize": 17, "fontWeight": "bold"},
 "encoding": {"x": {"field": "B", "type": "quantitative", "axis": null}, "y": {"field": "V", "type": "quantitative", "axis": null}, "text": {"field": "t"}}},
{"data": {"values": [{"B":29.7,"V":0.50}]}, "mark": {"type": "point", "shape": "M-0.55,-1L0.55,-1L0,1Z", "size": 225, "filled": true, "color": "black", "opacity": 1},
 "encoding": {"x": {"field": "B", "type": "quantitative", "axis": null}, "y": {"field": "V", "type": "quantitative", "axis": null}}}
],
"resolve": {"axis": {"x": "independent", "y": "independent"}}
},
{
"width": 273, "height": 401,
"layer": [
{"data": {"values": [{"B": 0}]}, "mark": {"type": "rule", "color": "#444444", "strokeWidth": 1.5},
 "encoding": {"x": {"field": "B", "type": "quantitative", "scale": {"domain": [-35, 35], "nice": false, "zero": false},
  "axis": {"orient": "top", "values": [-30,-20,-10,0,10,20,30], "tickSize": -6, "labels": false, "title": null}}}},
{"data": {"values": [{"V": 0}]}, "mark": {"type": "rule", "color": "black", "strokeWidth": 1},
 "encoding": {"y": {"field": "V", "type": "quantitative", "scale": {"domain": [-6, 6], "nice": false, "zero": false},
  "axis": {"orient": "right", "values": [-6,-5,-4,-3,-2,-1,0,1,2,3,4,5,6], "tickSize": -5, "labels": false, "title": null}}}},
{"data": {"name": "bL"}, "mark": {"type": "line", "strokeWidth": 1.3, "clip": true},
 "encoding": {
  "x": {"field": "B", "type": "quantitative", "scale": {"domain": [-35, 35], "nice": false, "zero": false},
   "axis": {"orient": "bottom", "values": [-30,-20,-10,0,10,20,30], "tickSize": -6, "labelExpr": "'' + datum.value", "labelPadding": 12, "title": null}},
  "y": {"field": "V", "type": "quantitative", "scale": {"domain": [-6, 6], "nice": false, "zero": false},
   "axis": {"orient": "left", "values": [-6,-5,-4,-3,-2,-1,0,1,2,3,4,5,6], "tickSize": -5, "labels": false, "title": null}},
  "color": {"field": "s", "type": "nominal", "scale": {"domain": ["k_dec","mk_inc","k_inc","mk_dec"], "range": ["#000000","#ef4f31","#0000ff","#19e619"]}, "legend": null}}},
{"data": {"values": [{"s":"k_inc","B":1.2,"B2":11.0,"V":5.36},{"s":"mk_dec","B":1.2,"B2":11.0,"V":4.56}]}, "mark": {"type": "rule", "strokeWidth": 1.3},
 "encoding": {"x": {"field": "B", "type": "quantitative", "axis": {"orient": "bottom", "values": [-25,-15,-5,5,15,25], "tickSize": -3.5, "labels": false, "title": null}}, "x2": {"field": "B2"},
  "y": {"field": "V", "type": "quantitative", "axis": {"orient": "left", "values": [-5.5,-4.5,-3.5,-2.5,-1.5,-0.5,0.5,1.5,2.5,3.5,4.5,5.5], "tickSize": -3, "labels": false, "title": null}},
  "color": {"field": "s", "type": "nominal", "scale": {"domain": ["k_dec","mk_inc","k_inc","mk_dec"], "range": ["#000000","#ef4f31","#0000ff","#19e619"]}, "legend": null}}},
{"data": {"values": [{"B":-31.45,"V":1.94,"V2":0.6}]}, "mark": {"type": "rule", "strokeWidth": 3, "color": "black"},
 "encoding": {"x": {"field": "B", "type": "quantitative", "axis": {"orient": "top", "values": [-25,-15,-5,5,15,25], "tickSize": -3.5, "labels": false, "title": null}},
  "y": {"field": "V", "type": "quantitative", "axis": {"orient": "right", "values": [-5.5,-4.5,-3.5,-2.5,-1.5,-0.5,0.5,1.5,2.5,3.5,4.5,5.5], "tickSize": -3, "labels": false, "title": null}}, "y2": {"field": "V2"}}},
{"data": {"values": [{"t":"(b)","B":-31.4,"V":5.36},{"t":"saturation","B":-27.55,"V":2.40},{"t":"[k","B":12.2,"V":5.36},{"t":",B","B":22.15,"V":5.36},{"t":"]","B":30.18,"V":5.36},{"t":"[-k","B":12.2,"V":4.56},{"t":",B","B":23.55,"V":4.56},{"t":"]","B":32.48,"V":4.56}]},
 "mark": {"type": "text", "align": "left", "baseline": "middle", "fontSize": 17},
 "encoding": {"x": {"field": "B", "type": "quantitative", "axis": null}, "y": {"field": "V", "type": "quantitative", "axis": null}, "text": {"field": "t"}}},
{"data": {"values": [{"t":"SAW","B":15.64,"V":5.36},{"t":"inc","B":26.36,"V":5.36},{"t":"SAW","B":17.05,"V":4.56},{"t":"dec","B":27.76,"V":4.56}]},
 "mark": {"type": "text", "align": "left", "baseline": "middle", "fontSize": 11, "dy": 6},
 "encoding": {"x": {"field": "B", "type": "quantitative", "axis": null}, "y": {"field": "V", "type": "quantitative", "axis": null}, "text": {"field": "t"}}},
{"data": {"values": [{"t":"M","B":-32.47,"V":2.40}]},
 "mark": {"type": "text", "align": "left", "baseline": "middle", "fontSize": 17, "fontWeight": "bold"},
 "encoding": {"x": {"field": "B", "type": "quantitative", "axis": null}, "y": {"field": "V", "type": "quantitative", "axis": null}, "text": {"field": "t"}}},
{"data": {"values": [{"B":-31.45,"V":0.51}]}, "mark": {"type": "point", "shape": "M-0.55,-1L0.55,-1L0,1Z", "size": 225, "filled": true, "color": "black", "opacity": 1},
 "encoding": {"x": {"field": "B", "type": "quantitative", "axis": null}, "y": {"field": "V", "type": "quantitative", "axis": null}}}
],
"resolve": {"axis": {"x": "independent", "y": "independent"}}
}
]
}]
},
{
"title": {"text": "Pt / Co / Al₂O₃", "anchor": "middle", "dx": 19.5, "offset": 18},
"vconcat": [{
"title": {"text": "External magnetic field Bₑₓₜ (mT)", "orient": "bottom", "anchor": "middle", "dx": 13.5, "offset": 2},
"spacing": 16,
"hconcat": [
{
"width": 274, "height": 401,
"layer": [
{"data": {"values": [{"B": 0}]}, "mark": {"type": "rule", "color": "#444444", "strokeWidth": 1.5},
 "encoding": {"x": {"field": "B", "type": "quantitative", "scale": {"domain": [-35, 35], "nice": false, "zero": false},
  "axis": {"orient": "top", "values": [-30,-20,-10,0,10,20,30], "tickSize": -6, "labels": false, "title": null}}}},
{"data": {"values": [{"V": 0}]}, "mark": {"type": "rule", "color": "black", "strokeWidth": 1},
 "encoding": {"y": {"field": "V", "type": "quantitative", "scale": {"domain": [-3.5, 3.5], "nice": false, "zero": false},
  "axis": {"orient": "right", "values": [-3,-2,-1,0,1,2,3], "tickSize": -5, "labels": false, "title": null}}}},
{"data": {"name": "cL"}, "mark": {"type": "line", "strokeWidth": 1.3, "clip": true},
 "encoding": {
  "x": {"field": "B", "type": "quantitative", "scale": {"domain": [-35, 35], "nice": false, "zero": false},
   "axis": {"orient": "bottom", "values": [-30,-20,-10,0,10,20,30], "tickSize": -6, "labelExpr": "'' + datum.value", "labelPadding": 12, "title": null}},
  "y": {"field": "V", "type": "quantitative", "scale": {"domain": [-3.5, 3.5], "nice": false, "zero": false},
   "axis": {"orient": "left", "values": [-3,-2,-1,0,1,2,3], "tickSize": -5, "labelExpr": "'' + datum.value", "labelPadding": 8.5, "title": "\"Spin current\"  - Vᵢ (μV)", "titlePadding": 4}},
  "color": {"field": "s", "type": "nominal", "scale": {"domain": ["k_dec","mk_inc","k_inc","mk_dec"], "range": ["#000000","#ef4f31","#0000ff","#19e619"]}, "legend": null}}},
{"data": {"values": [{"s":"k_dec","B":0.66,"B2":10.46,"V":3.10},{"s":"mk_inc","B":0.66,"B2":10.46,"V":2.62}]}, "mark": {"type": "rule", "strokeWidth": 1.3},
 "encoding": {"x": {"field": "B", "type": "quantitative", "axis": {"orient": "bottom", "values": [-25,-15,-5,5,15,25], "tickSize": -3.5, "labels": false, "title": null}}, "x2": {"field": "B2"},
  "y": {"field": "V", "type": "quantitative", "axis": {"orient": "left", "values": [-2.5,-1.5,-0.5,0.5,1.5,2.5], "tickSize": -3, "labels": false, "title": null}},
  "color": {"field": "s", "type": "nominal", "scale": {"domain": ["k_dec","mk_inc","k_inc","mk_dec"], "range": ["#000000","#ef4f31","#0000ff","#19e619"]}, "legend": null}}},
{"data": {"values": [{"B":31.0,"V":1.20,"V2":0.45}]}, "mark": {"type": "rule", "strokeWidth": 3, "color": "black"},
 "encoding": {"x": {"field": "B", "type": "quantitative", "axis": {"orient": "top", "values": [-25,-15,-5,5,15,25], "tickSize": -3.5, "labels": false, "title": null}},
  "y": {"field": "V", "type": "quantitative", "axis": {"orient": "right", "values": [-2.5,-1.5,-0.5,0.5,1.5,2.5], "tickSize": -3, "labels": false, "title": null}}, "y2": {"field": "V2"}}},
{"data": {"values": [{"t":"(c)","B":-31.2,"V":3.07},{"t":"saturation","B":12.91,"V":1.66},{"t":"[k","B":11.73,"V":3.10},{"t":",B","B":21.68,"V":3.10},{"t":"]","B":30.61,"V":3.10},{"t":"[-k","B":11.73,"V":2.62},{"t":",B","B":23.08,"V":2.62},{"t":"]","B":31.12,"V":2.62}]},
 "mark": {"type": "text", "align": "left", "baseline": "middle", "fontSize": 17},
 "encoding": {"x": {"field": "B", "type": "quantitative", "axis": null}, "y": {"field": "V", "type": "quantitative", "axis": null}, "text": {"field": "t"}}},
{"data": {"values": [{"t":"SAW","B":15.17,"V":3.10},{"t":"dec","B":25.89,"V":3.10},{"t":"SAW","B":16.58,"V":2.62},{"t":"inc","B":27.29,"V":2.62}]},
 "mark": {"type": "text", "align": "left", "baseline": "middle", "fontSize": 11, "dy": 6},
 "encoding": {"x": {"field": "B", "type": "quantitative", "axis": null}, "y": {"field": "V", "type": "quantitative", "axis": null}, "text": {"field": "t"}}},
{"data": {"values": [{"t":"M","B":7.81,"V":1.66}]},
 "mark": {"type": "text", "align": "left", "baseline": "middle", "fontSize": 17, "fontWeight": "bold"},
 "encoding": {"x": {"field": "B", "type": "quantitative", "axis": null}, "y": {"field": "V", "type": "quantitative", "axis": null}, "text": {"field": "t"}}},
{"data": {"values": [{"B":31.0,"V":0.37}]}, "mark": {"type": "point", "shape": "M-0.55,-1L0.55,-1L0,1Z", "size": 225, "filled": true, "color": "black", "opacity": 1},
 "encoding": {"x": {"field": "B", "type": "quantitative", "axis": null}, "y": {"field": "V", "type": "quantitative", "axis": null}}}
],
"resolve": {"axis": {"x": "independent", "y": "independent"}}
},
{
"width": 273, "height": 401,
"layer": [
{"data": {"values": [{"B": 0}]}, "mark": {"type": "rule", "color": "#444444", "strokeWidth": 1.5},
 "encoding": {"x": {"field": "B", "type": "quantitative", "scale": {"domain": [-35, 35], "nice": false, "zero": false},
  "axis": {"orient": "top", "values": [-30,-20,-10,0,10,20,30], "tickSize": -6, "labels": false, "title": null}}}},
{"data": {"values": [{"V": 0}]}, "mark": {"type": "rule", "color": "black", "strokeWidth": 1},
 "encoding": {"y": {"field": "V", "type": "quantitative", "scale": {"domain": [-3.5, 3.5], "nice": false, "zero": false},
  "axis": {"orient": "right", "values": [-3,-2,-1,0,1,2,3], "tickSize": -5, "labels": false, "title": null}}}},
{"data": {"name": "dL"}, "mark": {"type": "line", "strokeWidth": 1.3, "clip": true},
 "encoding": {
  "x": {"field": "B", "type": "quantitative", "scale": {"domain": [-35, 35], "nice": false, "zero": false},
   "axis": {"orient": "bottom", "values": [-30,-20,-10,0,10,20,30], "tickSize": -6, "labelExpr": "'' + datum.value", "labelPadding": 12, "title": null}},
  "y": {"field": "V", "type": "quantitative", "scale": {"domain": [-3.5, 3.5], "nice": false, "zero": false},
   "axis": {"orient": "left", "values": [-3,-2,-1,0,1,2,3], "tickSize": -5, "labels": false, "title": null}},
  "color": {"field": "s", "type": "nominal", "scale": {"domain": ["k_dec","mk_inc","k_inc","mk_dec"], "range": ["#000000","#ef4f31","#0000ff","#19e619"]}, "legend": null}}},
{"data": {"values": [{"s":"k_inc","B":0.36,"B2":10.56,"V":3.22},{"s":"mk_dec","B":0.36,"B2":10.56,"V":2.74}]}, "mark": {"type": "rule", "strokeWidth": 1.3},
 "encoding": {"x": {"field": "B", "type": "quantitative", "axis": {"orient": "bottom", "values": [-25,-15,-5,5,15,25], "tickSize": -3.5, "labels": false, "title": null}}, "x2": {"field": "B2"},
  "y": {"field": "V", "type": "quantitative", "axis": {"orient": "left", "values": [-2.5,-1.5,-0.5,0.5,1.5,2.5], "tickSize": -3, "labels": false, "title": null}},
  "color": {"field": "s", "type": "nominal", "scale": {"domain": ["k_dec","mk_inc","k_inc","mk_dec"], "range": ["#000000","#ef4f31","#0000ff","#19e619"]}, "legend": null}}},
{"data": {"values": [{"B":-32.3,"V":1.08,"V2":0.35}]}, "mark": {"type": "rule", "strokeWidth": 3, "color": "black"},
 "encoding": {"x": {"field": "B", "type": "quantitative", "axis": {"orient": "top", "values": [-25,-15,-5,5,15,25], "tickSize": -3.5, "labels": false, "title": null}},
  "y": {"field": "V", "type": "quantitative", "axis": {"orient": "right", "values": [-2.5,-1.5,-0.5,0.5,1.5,2.5], "tickSize": -3, "labels": false, "title": null}}, "y2": {"field": "V2"}}},
{"data": {"values": [{"t":"(d)","B":-30.9,"V":3.13},{"t":"saturation","B":-29.49,"V":1.58},{"t":"[k","B":11.84,"V":3.22},{"t":",B","B":21.79,"V":3.22},{"t":"]","B":29.82,"V":3.22},{"t":"[-k","B":11.84,"V":2.74},{"t":",B","B":23.19,"V":2.74},{"t":"]","B":32.12,"V":2.74}]},
 "mark": {"type": "text", "align": "left", "baseline": "middle", "fontSize": 17},
 "encoding": {"x": {"field": "B", "type": "quantitative", "axis": null}, "y": {"field": "V", "type": "quantitative", "axis": null}, "text": {"field": "t"}}},
{"data": {"values": [{"t":"SAW","B":15.28,"V":3.22},{"t":"inc","B":26.0,"V":3.22},{"t":"SAW","B":16.69,"V":2.74},{"t":"dec","B":27.40,"V":2.74}]},
 "mark": {"type": "text", "align": "left", "baseline": "middle", "fontSize": 11, "dy": 6},
 "encoding": {"x": {"field": "B", "type": "quantitative", "axis": null}, "y": {"field": "V", "type": "quantitative", "axis": null}, "text": {"field": "t"}}},
{"data": {"values": [{"t":"M","B":-34.34,"V":1.58}]},
 "mark": {"type": "text", "align": "left", "baseline": "middle", "fontSize": 17, "fontWeight": "bold"},
 "encoding": {"x": {"field": "B", "type": "quantitative", "axis": null}, "y": {"field": "V", "type": "quantitative", "axis": null}, "text": {"field": "t"}}},
{"data": {"values": [{"B":-32.3,"V":0.26}]}, "mark": {"type": "point", "shape": "M-0.55,-1L0.55,-1L0,1Z", "size": 225, "filled": true, "color": "black", "opacity": 1},
 "encoding": {"x": {"field": "B", "type": "quantitative", "axis": null}, "y": {"field": "V", "type": "quantitative", "axis": null}}}
],
"resolve": {"axis": {"x": "independent", "y": "independent"}}
}
]
}]
}
],
"config": {
"font": "Liberation Sans",
"view": {"stroke": "black", "strokeWidth": 1.5},
"axis": {"domain": false, "grid": false, "labelFont": "Liberation Sans", "labelFontSize": 17, "labelColor": "black", "tickColor": "black", "tickWidth": 1, "titleFont": "Liberation Sans", "titleFontSize": 17, "titleFontWeight": "normal", "titleColor": "black", "labelOverlap": false, "labelFlush": false, "labelBound": false},
"title": {"font": "Liberation Sans", "fontSize": 19, "fontWeight": "normal", "color": "black"},
"text": {"font": "Liberation Sans", "color": "black"}
}
}
